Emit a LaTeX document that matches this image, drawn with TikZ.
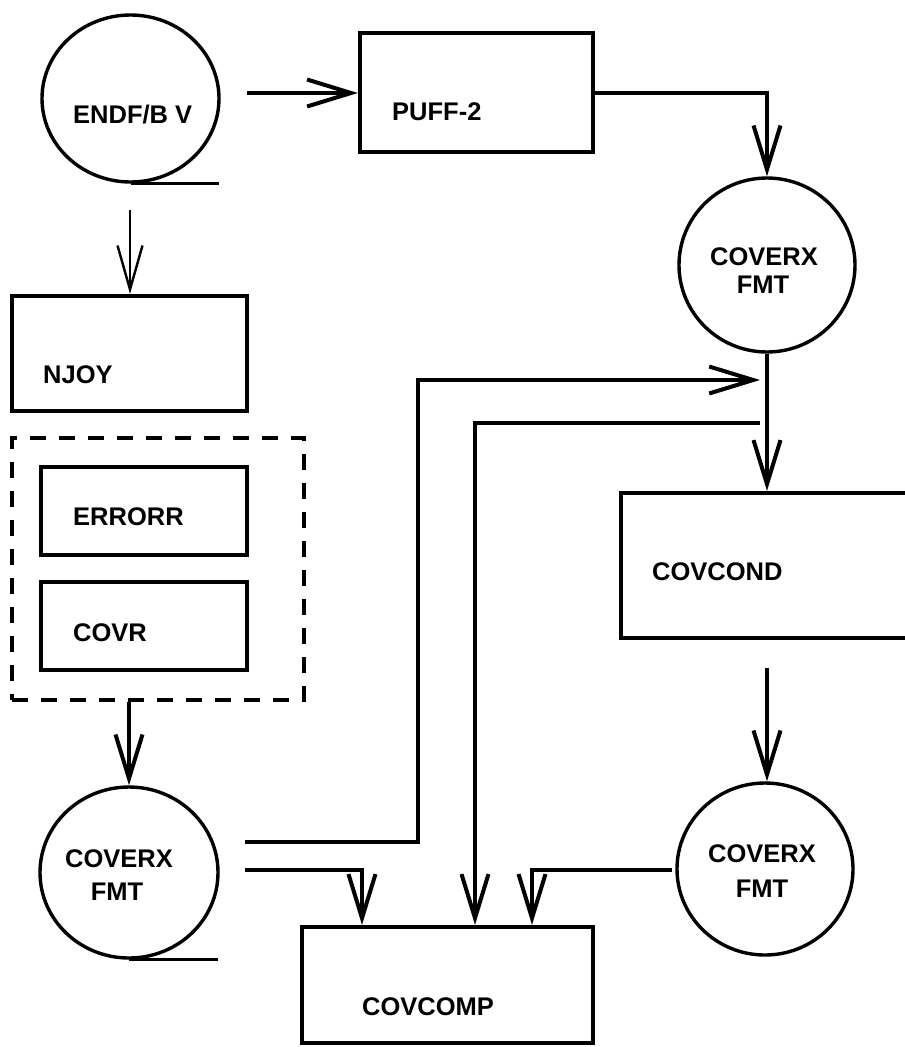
\documentclass[tikz,border=0pt]{standalone}
\usepackage{fontspec}
\setmainfont{Liberation Sans}
\usetikzlibrary{arrows.meta,shapes.geometric}
\begin{document}
\begin{tikzpicture}[x=1pt,y=-1pt,
  font=\fontsize{25.5}{30}\selectfont\bfseries,
  box/.style={draw,line width=4.2pt,rectangle,inner sep=0pt},
  tape/.style={draw,line width=3.4pt,ellipse,inner sep=0pt},
  grpbox/.style={draw,line width=4.6pt,rectangle,inner sep=0pt,dash pattern=on 16pt off 13pt},
  lbl/.style={inner sep=0pt,anchor=base west},
  clbl/.style={inner sep=0pt,anchor=base},
  conn/.style={line width=4pt},
  arr/.style={conn,-{Straight Barb[length=44pt,width=27pt]}},
  thinarr/.style={line width=2.4pt,-{Straight Barb[length=44pt,width=25pt]}},
  tapeline/.style={line width=3.4pt},
]
\clip (0,0) rectangle (905,1047);
\fill[white] (0,0) rectangle (905,1047);

% shapes
\node[tape,minimum width=177pt,minimum height=167pt] (endf) at (130.5,98.5) {};
\node[box,minimum width=233pt,minimum height=119pt] (puff) at (476.5,92.5) {};
\node[tape,minimum width=176pt,minimum height=174pt] (cxTR) at (767,265) {};
\node[box,minimum width=235pt,minimum height=115pt] (njoy) at (129.5,353.5) {};
\node[grpbox,minimum width=292pt,minimum height=262pt] (grp) at (158,569) {};
\node[box,minimum width=206pt,minimum height=88pt] (errorr) at (144,511) {};
\node[box,minimum width=206pt,minimum height=88pt] (covr) at (144,626) {};
\node[box,minimum width=294pt,minimum height=145pt] (covcond) at (768,565.5) {};
\node[tape,minimum width=178pt,minimum height=171pt] (cxBL) at (129,872.5) {};
\node[tape,minimum width=176pt,minimum height=172pt] (cxBR) at (765,869) {};
\node[box,minimum width=291pt,minimum height=116pt] (covcomp) at (447.5,985) {};

% tape marks
\draw[tapeline] (endf.south) -- ++(88,0);
\draw[tapeline] (cxBL.south) -- ++(89,0);

% labels
\node[lbl] (tEndf) at (73,123) {ENDF/B V};
\node[lbl] (tPuff) at (392,120) {PUFF-2};
\node[clbl] (tTR1) at (764,265) {COVERX};
\node[clbl] (tTR2) at (763,293) {FMT};
\node[lbl] (tNjoy) at (43,383) {NJOY};
\node[lbl] (tErr) at (73,525) {ERRORR};
\node[lbl] (tCovr) at (73,641) {COVR};
\node[lbl] (tCond) at (652,580) {COVCOND};
\node[clbl] (tBL1) at (119,867) {COVERX};
\node[clbl] (tBL2) at (117,900) {FMT};
\node[clbl] (tBR1) at (762,862) {COVERX};
\node[clbl] (tBR2) at (762,897) {FMT};
\node[lbl] (tComp) at (362,1015) {COVCOMP};

% free ends and bends
\coordinate (endfOut) at (247,93);
\coordinate (endfDown) at (130,210);
\coordinate (blOutA) at (245,842);
\coordinate (bendA) at (418,380);
\coordinate (mergeA) at (760,380);
\coordinate (mergeB) at (760,423);
\coordinate (bendB) at (475,423);
\coordinate (blOutB) at (245,870);
\coordinate (inL) at (362,870);
\coordinate (brOut) at (672,870);
\coordinate (inR) at (532,870);
\coordinate (condOut) at (767,668);

% connectors
\draw[arr] (endfOut) -- (endfOut -| puff.west);
\draw[arr] (puff.east) -| (cxTR.north);
\draw[thinarr] (endfDown) -- (endfDown |- njoy.north);
\draw[arr] (cxBL.north |- grp.south) -- (cxBL.north);
\draw[arr] (cxTR.south) -- (cxTR.south |- covcond.north);
\draw[arr] (blOutA) -| (bendA) -- (mergeA);
\draw[arr] (mergeB) -- (bendB) -- (bendB |- covcomp.north);
\draw[arr] (blOutB) -- (inL) -- (inL |- covcomp.north);
\draw[arr] (brOut) -- (inR) -- (inR |- covcomp.north);
\draw[arr] (condOut) -- (condOut |- cxBR.north);
\end{tikzpicture}
\end{document}
